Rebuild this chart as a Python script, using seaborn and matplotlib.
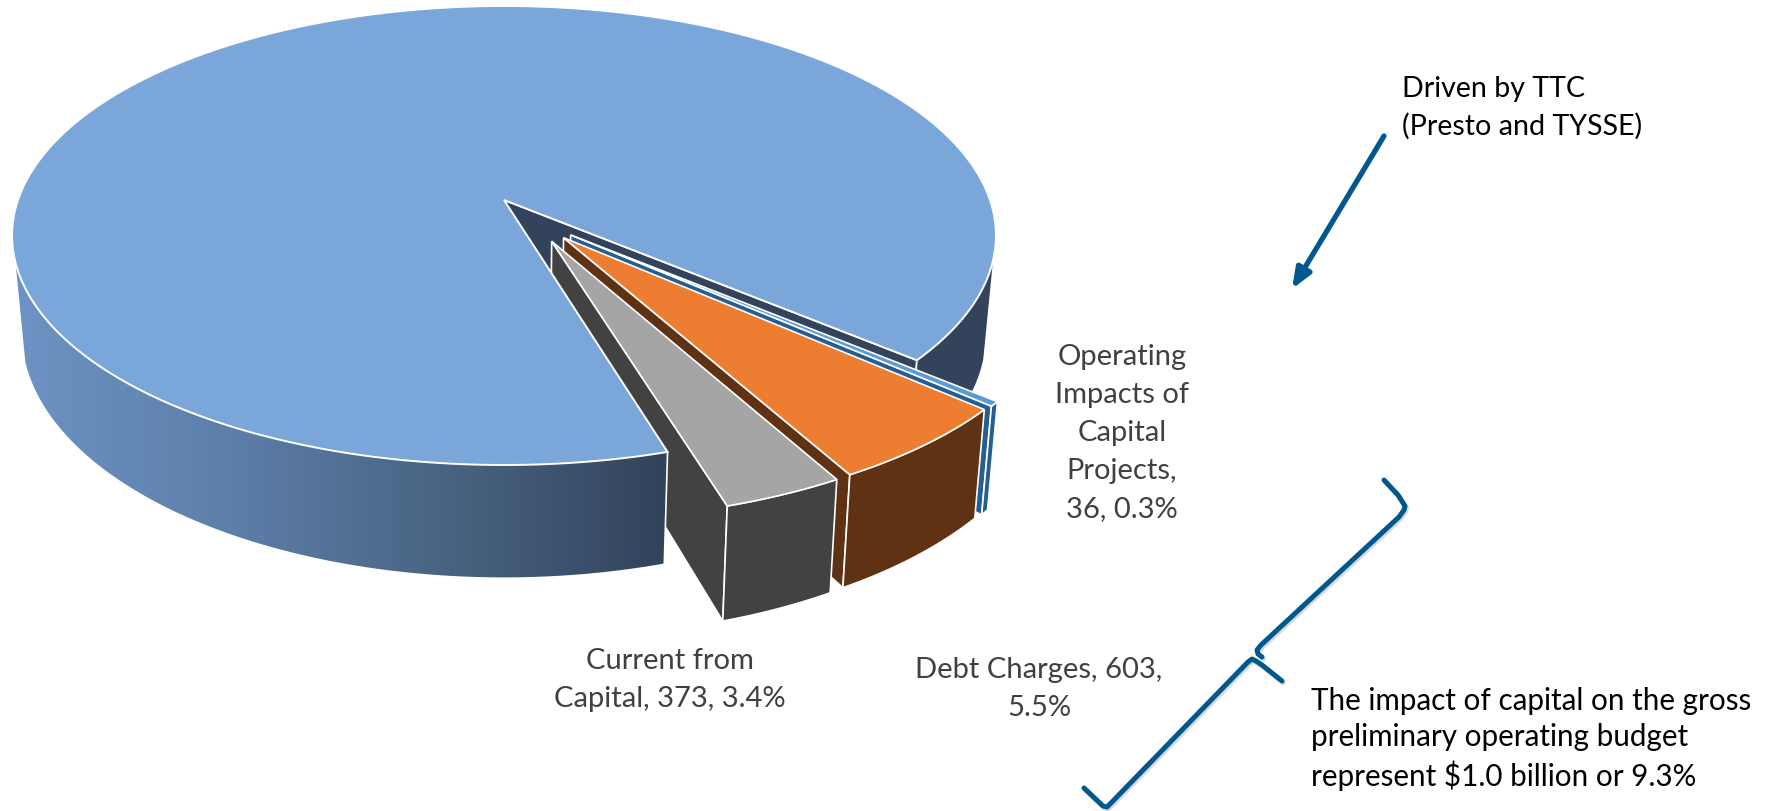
import numpy as np
import matplotlib
matplotlib.use('Agg')
import matplotlib.pyplot as plt
import matplotlib.patheffects as pe
from matplotlib.patches import Polygon
import seaborn as sns

# --- data ---
slice_names = ['Operating Impacts of Capital Projects', 'Debt Charges', 'Current from Capital']
slice_values = [36, 603, 373]
rest_value = 9948
slice_labels = ['Operating\nImpacts of\nCapital\nProjects,\n36, 0.3%',
                'Debt Charges, 603,\n5.5%',
                'Current from\nCapital, 373, 3.4%']
note_top = 'Driven by TTC\n(Presto and TYSSE)'
note_bottom = ('The impact of capital on the gross\n'
               'preliminary operating budget\n'
               'represent $1.0 billion or 9.3%')

top_colors = ['#5b9bd5', '#ed7d31', '#a5a5a5']
wall_colors = ['#255e91', '#5f3213', '#424242']
main_color = '#7ba6da'
navy = '#32435b'
blue_line = '#01588f'
label_color = '#404040'

# --- projection of the tilted disc onto the canvas (pixels) ---
CX, CY = 504, 200
A, B, K = 486, 224, 0.1547
DROP = 95
SHRINK = 0.98
EXPLODE = 0.203
START = -40.1   # degrees, where the cut in the main slice begins
R_SLICE = 0.99
LEFT_TANGENT, RIGHT_TANGENT = -164.4, -15.0   # where the wall silhouette leaves the disc


def top_xy(u, v):
    u, v = np.asarray(u), np.asarray(v)
    w = 1 + K * v
    return np.c_[CX + A * u / w, CY - B * v / w]


def bot_xy(u, v):
    u, v = np.asarray(u), np.asarray(v)
    w = 1 + K * v
    return np.c_[CX + SHRINK * A * u / w, CY + (DROP - B * v) / w]


def arc(a0, a1, r=1.0, ox=0.0, oy=0.0, n=200):
    t = np.radians(np.linspace(a0, a1, n))
    return ox + r * np.cos(t), oy + r * np.sin(t)


sns.set_theme(style='white')
plt.rcParams['font.family'] = ['Lato', 'DejaVu Sans']

fig = plt.figure(figsize=(17.69, 8.11), dpi=100)
ax = fig.add_axes([0, 0, 1, 1])
ax.set_xlim(0, 1769)
ax.set_ylim(811, 0)
ax.axis('off')

total = rest_value + sum(slice_values)
sweeps = [360 * v / total for v in slice_values]
edges = START - np.cumsum([0] + sweeps)
gap_mid = (edges[0] + edges[-1]) / 2
main_end = edges[-1]

# cut wall and right hand wall of the main slice, behind everything
cu, cv = np.cos(np.radians(START)), np.sin(np.radians(START))
cut = np.vstack([top_xy([0, cu], [0, cv]), bot_xy([cu, 0], [cv, 0])])
ax.add_patch(Polygon(cut, fc=navy, ec='white', lw=1.2, zorder=1))
u, v = arc(START, RIGHT_TANGENT)
wall = np.vstack([top_xy(u, v), bot_xy(u, v)[::-1]])
ax.add_patch(Polygon(wall, fc=navy, ec='none', zorder=1))
ax.plot(*np.vstack([top_xy([cu], [cv]), bot_xy([cu], [cv])]).T, color='white', lw=1.2, zorder=1.5)

# exploded slices, far one first
for i in range(3):
    a0, a1 = edges[i], edges[i + 1]
    d = np.radians(gap_mid + 0.5 * ((a0 + a1) / 2 - gap_mid))
    ox, oy = EXPLODE * np.cos(d), EXPLODE * np.sin(d)
    u, v = arc(a0, a1, R_SLICE, ox, oy)
    # side wall on the lower left edge
    side = np.vstack([top_xy([ox, u[-1]], [oy, v[-1]]), bot_xy([u[-1], ox], [v[-1], oy])])
    ax.add_patch(Polygon(side, fc=wall_colors[i], ec='white', lw=1.2, zorder=2 + i))
    outer = np.vstack([top_xy(u, v), bot_xy(u, v)[::-1]])
    ax.add_patch(Polygon(outer, fc=wall_colors[i], ec='white', lw=1.2, zorder=2 + i))
    face = np.vstack([top_xy([ox], [oy]), top_xy(u, v)])
    ax.add_patch(Polygon(face, fc=top_colors[i], ec='white', lw=1.2, zorder=2 + i))

# front wall of the main slice with its left to right shading
u, v = arc(main_end, LEFT_TANGENT)
front = np.vstack([top_xy(u, v), bot_xy(u, v)[::-1]])
clip = Polygon(front, fc='none', ec='none', zorder=6)
ax.add_patch(clip)
shade = sns.blend_palette(['#6d93c4', '#5d7ea9', '#486381', navy], as_cmap=True)
x0, x1 = front[:, 0].min(), front[:, 0].max()
img = ax.imshow(np.linspace(0, 1, 256)[None, :], cmap=shade, aspect='auto',
                extent=(x0, x1, 811, 0), zorder=6)
img.set_clip_path(clip)
ax.set_xlim(0, 1769)
ax.set_ylim(811, 0)

# top of the main slice
u, v = arc(main_end, START - 360, n=600)
main_top = np.vstack([top_xy([0], [0]), top_xy(u, v)])
ax.add_patch(Polygon(main_top, fc=main_color, ec='white', lw=1.4, zorder=7))
eu, ev = np.cos(np.radians(main_end)), np.sin(np.radians(main_end))
ax.plot(*np.vstack([top_xy([eu], [ev]), bot_xy([eu], [ev])]).T, color='white', lw=1.2, zorder=6.5)

# slice labels
fs = 21
spacing = 1.58
ax.text(1122, 433, slice_labels[0], ha='center', va='center', fontsize=fs,
        color=label_color, linespacing=spacing, zorder=9)
ax.text(1039, 689, slice_labels[1], ha='center', va='center', fontsize=fs,
        color=label_color, linespacing=spacing, zorder=9)
ax.text(670, 680, slice_labels[2], ha='center', va='center', fontsize=fs,
        color=label_color, linespacing=spacing, zorder=9)

# annotations
ax.text(1402, 108, note_top, ha='left', va='center', fontsize=20.6,
        color='black', linespacing=1.51, zorder=9)
ax.text(1311, 739, note_bottom, ha='left', va='center', fontsize=21.3,
        color='black', linespacing=1.36, zorder=9)

shadow = [pe.SimpleLineShadow(offset=(1, -1.5), shadow_color='black', alpha=0.15), pe.Normal()]
ax.annotate('', xy=(1292, 289), xytext=(1384, 136),
            arrowprops=dict(arrowstyle='-|>,head_length=0.8,head_width=0.32', mutation_scale=15,
                            color=blue_line, lw=3.8, shrinkA=0, shrinkB=0), zorder=9)
upper = ([1384, 1398, 1405, 1404, 1399, 1261, 1257, 1258, 1262], [480, 495, 506, 510, 517, 645, 650, 654, 657])
lower = ([1282, 1262, 1256, 1252, 1248, 1111, 1107, 1103, 1084], [681, 665, 661, 659, 662, 803, 807, 806, 788])
for xs, ys in (upper, lower):
    ax.plot(xs, ys, color=blue_line, lw=3.6, solid_joinstyle='round', solid_capstyle='round',
            path_effects=shadow, zorder=9)

fig.savefig('out.png', dpi=100, facecolor='white')
